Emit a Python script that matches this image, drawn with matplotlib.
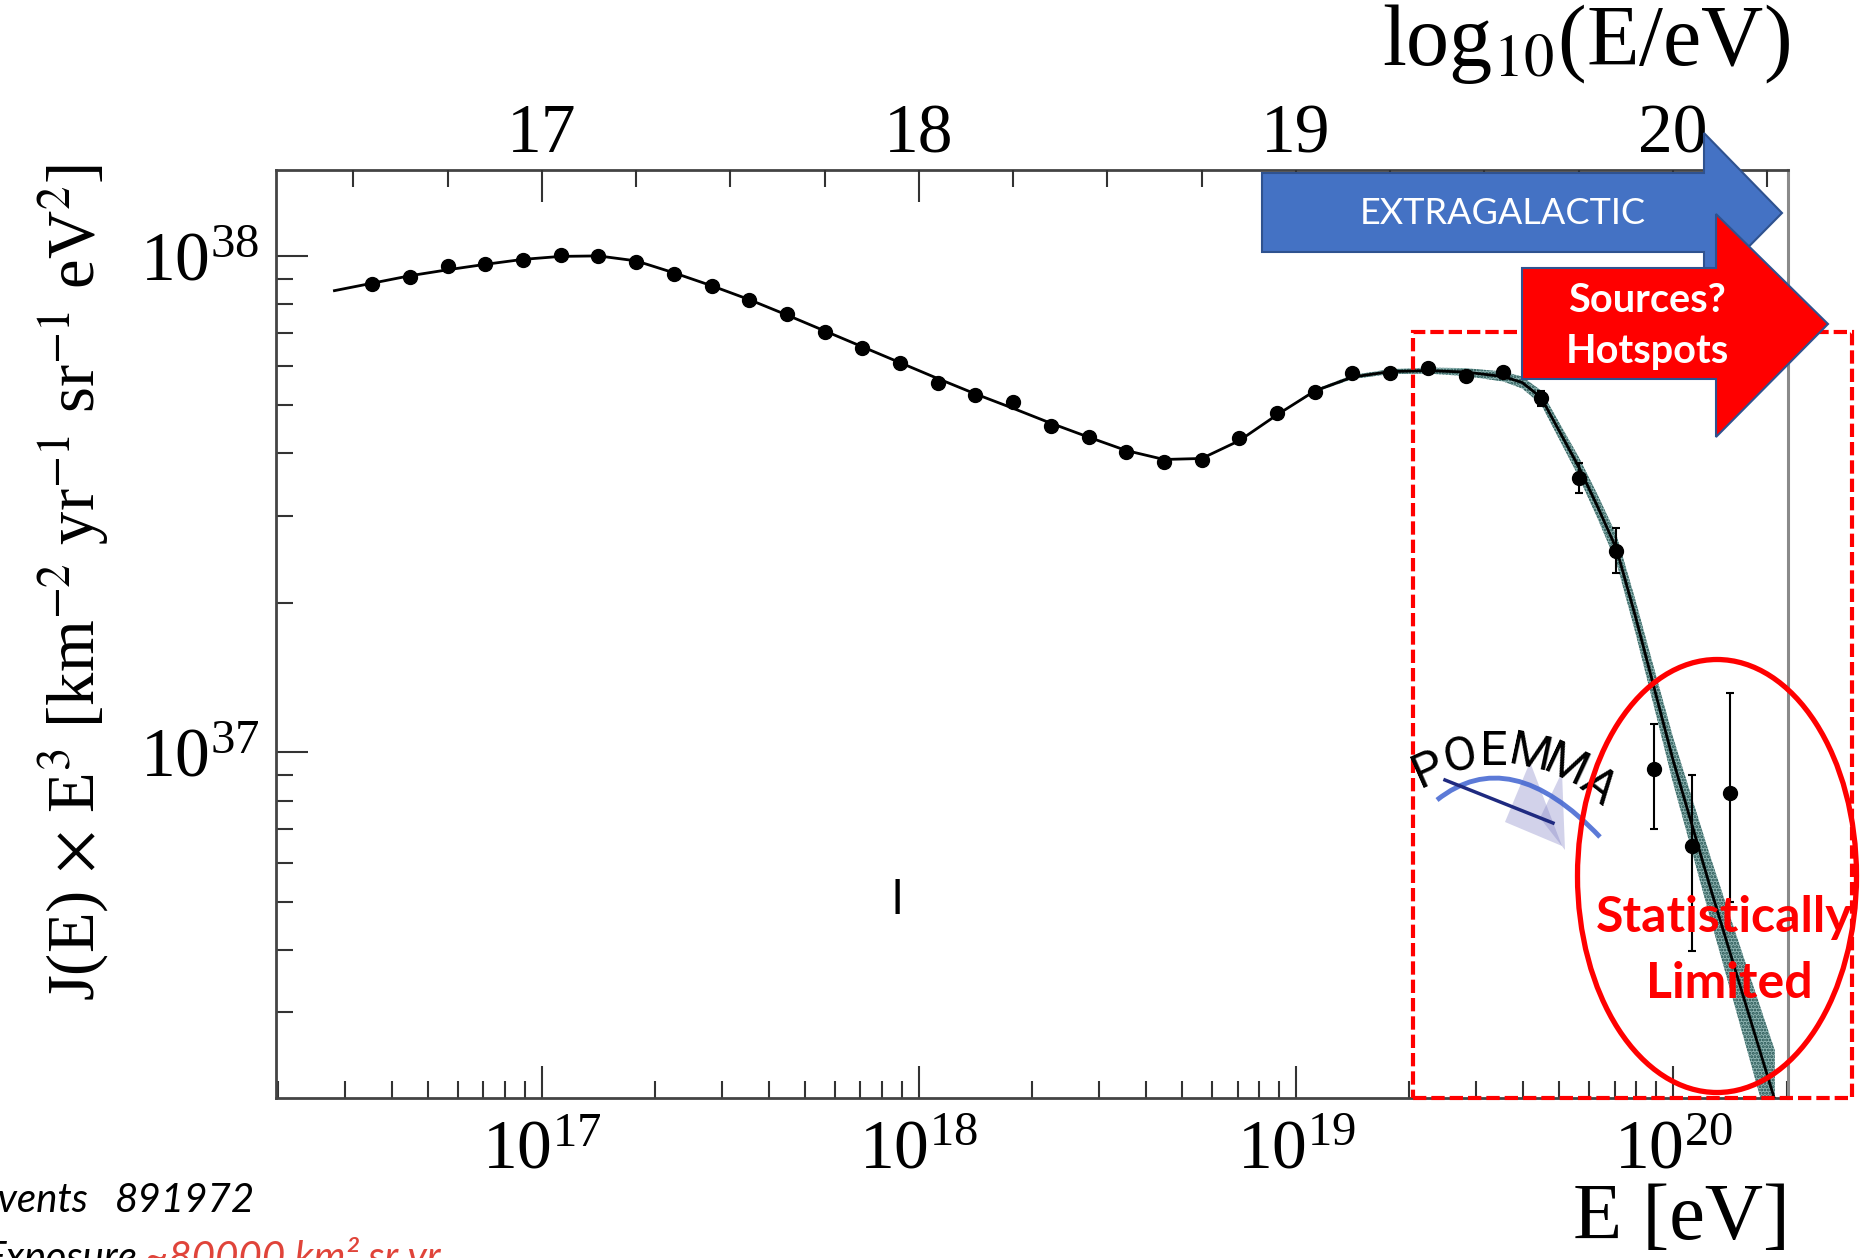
import numpy as np
import matplotlib
matplotlib.use("Agg")
import matplotlib.pyplot as plt
from matplotlib.patches import Polygon, Rectangle, Ellipse, PathPatch
from matplotlib.path import Path
from matplotlib.ticker import LogLocator, NullFormatter, FixedLocator

plt.rcParams['font.family'] = ['Liberation Serif', 'DejaVu Serif']
plt.rcParams['mathtext.fontset'] = 'stix'
plt.rcParams['hatch.linewidth'] = 1.4

# ---- data (log10 values) ----
log_e = [16.55, 16.65, 16.75, 16.85, 16.95, 17.05, 17.15, 17.25, 17.35, 17.45,
         17.55, 17.65, 17.75, 17.85, 17.95, 18.05, 18.15, 18.25, 18.35, 18.45,
         18.55, 18.65, 18.75, 18.85, 18.95, 19.05, 19.15, 19.25, 19.35, 19.45,
         19.55, 19.65, 19.75, 19.85, 19.95, 20.05, 20.15]
log_flux = [37.944, 37.958, 37.979, 37.983, 37.991, 38.001, 38.000, 37.987, 37.964, 37.939,
            37.911, 37.882, 37.846, 37.815, 37.785, 37.744, 37.719, 37.705, 37.658, 37.636,
            37.605, 37.584, 37.589, 37.633, 37.684, 37.725, 37.764, 37.764, 37.774, 37.758,
            37.767, 37.713, 37.552, 37.405, 36.966, 36.811, 36.918]
# error bars (dex) for the highest-energy bins
err_log_e = [19.65, 19.75, 19.85, 19.95, 20.05, 20.15]
err_lo = [0.015, 0.030, 0.044, 0.121, 0.211, 0.219]
err_hi = [0.015, 0.030, 0.046, 0.091, 0.143, 0.201]

# fitted spectrum and its uncertainty band (half width, dex)
fit_log_e = [16.45, 16.55, 16.65, 16.75, 16.85, 16.95, 17.05, 17.15, 17.25, 17.35,
             17.45, 17.55, 17.65, 17.75, 17.85, 17.95, 18.05, 18.15, 18.25, 18.35,
             18.45, 18.55, 18.65, 18.75, 18.85, 18.95, 19.05, 19.15, 19.25, 19.35,
             19.45, 19.55, 19.60, 19.65, 19.70, 19.75, 19.80, 19.85, 19.90, 19.95,
             20.00, 20.05, 20.10, 20.15, 20.20, 20.27]
fit_log_flux = [37.930, 37.945, 37.960, 37.972, 37.983, 37.993, 37.999, 38.000, 37.990, 37.966,
                37.940, 37.912, 37.881, 37.849, 37.817, 37.785, 37.753, 37.722, 37.693, 37.663,
                37.635, 37.608, 37.590, 37.592, 37.628, 37.680, 37.728, 37.756, 37.767, 37.769,
                37.766, 37.757, 37.745, 37.715, 37.645, 37.575, 37.495, 37.410, 37.275, 37.130,
                36.985, 36.855, 36.725, 36.600, 36.475, 36.300]
fit_band = [0, 0, 0, 0, 0, 0, 0, 0, 0, 0,
            0, 0, 0, 0, 0, 0, 0, 0, 0, 0,
            0, 0, 0, 0, 0, 0, 0.003, 0.004, 0.005, 0.006,
            0.008, 0.010, 0.012, 0.014, 0.017, 0.020, 0.024, 0.028, 0.033, 0.039,
            0.046, 0.054, 0.063, 0.073, 0.084, 0.100]

top_ticks = [17, 18, 19, 20]

W, H = 1867, 1258
fig = plt.figure(figsize=(W / 100, H / 100), dpi=100)


def fx(px):
    return px / W


def fy(py):
    return 1 - py / H


ax = fig.add_axes([fx(276), fy(1098), fx(1788 - 276), (1098 - 170) / H])
ax.set_xscale('log')
ax.set_yscale('log')
ax.set_xlim(10 ** 16.295, 10 ** 20.305)
ax.set_ylim(10 ** 36.304, 10 ** 38.173)

E = 10 ** np.array(log_e)
F = 10 ** np.array(log_flux)
fE = 10 ** np.array(fit_log_e)
fF = np.array(fit_log_flux)
band = np.array(fit_band)

ax.fill_between(fE, 10 ** (fF - band), 10 ** (fF + band), facecolor='#8fb4b2',
                edgecolor='#1f4f4d', hatch='.....', linewidth=0, zorder=2)
ax.plot(fE, 10 ** fF, color='black', lw=2.0, zorder=3)

eE = 10 ** np.array(err_log_e)
eF = F[[log_e.index(v) for v in err_log_e]]
ylo = eF - 10 ** (np.log10(eF) - np.array(err_lo))
yhi = 10 ** (np.log10(eF) + np.array(err_hi)) - eF
ax.errorbar(eE, eF, yerr=[ylo, yhi], fmt='none', ecolor='black', elinewidth=1.5,
            capsize=3, capthick=1.5, zorder=4)
ax.plot(E, F, 'o', color='black', markersize=10, zorder=5)

# axes styling
for s in ['left', 'bottom', 'top']:
    ax.spines[s].set_color('#444444')
    ax.spines[s].set_linewidth(2)
ax.spines['right'].set_color('#8a8a8a')
ax.spines['right'].set_linewidth(2.2)

ax.xaxis.set_major_locator(LogLocator(base=10, numticks=10))
ax.xaxis.set_minor_locator(LogLocator(base=10, subs=np.arange(2, 10), numticks=20))
ax.yaxis.set_major_locator(LogLocator(base=10, numticks=10))
ax.yaxis.set_minor_locator(LogLocator(base=10, subs=np.arange(2, 10), numticks=20))
ax.xaxis.set_minor_formatter(NullFormatter())
ax.yaxis.set_minor_formatter(NullFormatter())
ax.tick_params(which='both', direction='in', top=False, right=False, color='#333333', width=1.5)
ax.tick_params(which='major', length=23)
ax.tick_params(which='minor', length=12)
ax.tick_params(axis='x', which='major', labelsize=50, pad=16)
ax.tick_params(axis='y', which='major', labelsize=50, pad=12)

ax2 = ax.twiny()
ax2.set_xlim(16.295, 20.305)
ax2.xaxis.set_major_locator(FixedLocator(top_ticks))
ax2.xaxis.set_minor_locator(FixedLocator(np.arange(16.5, 20.3, 0.25)))
ax2.set_xticklabels([str(t) for t in top_ticks])
ax2.tick_params(which='both', direction='in', color='#333333', width=1.5)
ax2.tick_params(which='major', length=23, labelsize=50, pad=2)
ax2.tick_params(which='minor', length=12)
for s in ax2.spines.values():
    s.set_visible(False)

# axis titles
fig.text(fx(1790), fy(44), r'log$_{10}$(E/eV)', fontsize=62, ha='right', va='center')
fig.text(fx(1790), fy(1219), 'E [eV]', fontsize=58, ha='right', va='center')
fig.text(fx(74), fy(583),
         r'J(E)$\,\times\,$E$^{3}$ [km$^{-2}$ yr$^{-1}$ sr$^{-1}$ eV$^{2}$]',
         fontsize=48, rotation=90, ha='center', va='center')
fig.text(fx(897), fy(902), 'l', fontsize=34, family='DejaVu Sans', ha='center', va='center')

# exposure info at the bottom left
sans = ['Lato', 'DejaVu Sans']
fig.text(fx(88), fy(1212), 'Events', fontsize=29, style='italic', family=sans, ha='right', va='baseline')
fig.text(fx(115), fy(1212), '891972', fontsize=29, style='italic', family=sans, ha='left', va='baseline')
fig.text(fx(137), fy(1270), 'Exposure', fontsize=29, style='italic', family=sans, ha='right', va='baseline')
fig.text(fx(145), fy(1270), '~80000 km² sr yr', fontsize=29, style='italic', family=sans,
         color='#e0443a', ha='left', va='baseline')

# arrows
blue = [(1262, 173), (1704, 173), (1704, 133), (1782, 213), (1704, 292), (1704, 252), (1262, 252)]
fig.add_artist(Polygon([(fx(x), fy(y)) for x, y in blue], closed=True, transform=fig.transFigure,
                       facecolor='#4472C4', edgecolor='#2F528F', lw=1.5, zorder=5))
red = [(1522, 268), (1716, 268), (1716, 214), (1828, 324), (1716, 437), (1716, 379), (1522, 379)]
fig.add_artist(Polygon([(fx(x), fy(y)) for x, y in red], closed=True, transform=fig.transFigure,
                       facecolor='#FF0000', edgecolor='#2F528F', lw=1.5, zorder=6))
fig.text(fx(1503), fy(214), 'EXTRAGALACTIC', fontsize=26, family=sans, color='white',
         ha='center', va='center', zorder=7)
fig.text(fx(1647), fy(301), 'Sources?', fontsize=28.5, family=sans, weight='bold', color='white',
         ha='center', va='center', zorder=7)
fig.text(fx(1647), fy(351), 'Hotspots', fontsize=28.5, family=sans, weight='bold', color='white',
         ha='center', va='center', zorder=7)

# highlighted regions
fig.add_artist(Rectangle((fx(1413), fy(1098)), fx(1852 - 1413), (1098 - 332) / H,
                         transform=fig.transFigure, fill=False, edgecolor='#FF0000', lw=3,
                         linestyle=(0, (3.2, 1.2)), zorder=4))
fig.add_artist(Ellipse((fx(1717), fy(876)), fx(279), 433 / H, transform=fig.transFigure,
                       fill=False, edgecolor='#FF0000', lw=3.8, zorder=5))
fig.text(fx(1724), fy(918), 'Statistically', fontsize=36, family=sans, weight='bold',
         color='#FF0000', ha='center', va='center', zorder=7)
fig.text(fx(1729), fy(983), 'Limited', fontsize=36, family=sans, weight='bold',
         color='#FF0000', ha='center', va='center', zorder=7)

# POEMMA logo
tri1 = [(1530, 762), (1505, 822), (1562, 846)]
tri2 = [(1562, 772), (1540, 818), (1565, 850)]
for tri in (tri1, tri2):
    fig.add_artist(Polygon([(fx(x), fy(y)) for x, y in tri], closed=True, transform=fig.transFigure,
                           facecolor='#7f7fc4', alpha=0.35, lw=0, zorder=3))
arc = Path([(fx(1437), fy(800)), (fx(1510), fy(742)), (fx(1600), fy(837))],
           [Path.MOVETO, Path.CURVE3, Path.CURVE3])
fig.add_artist(PathPatch(arc, transform=fig.transFigure, fill=False, edgecolor='#3f63d0',
                         lw=3.5, alpha=0.85, zorder=3))
fig.add_artist(plt.Line2D([fx(1445), fx(1553)], [fy(780), fy(823)], transform=fig.transFigure,
                          color='#1f2a80', lw=2.5, zorder=3))
letters = ['P', 'O', 'E', 'M', 'M', 'A']
lx = [1429, 1460, 1494, 1530, 1566, 1598]
ly = [770, 757, 752, 755, 767, 786]
rot = [24, 12, 0, -12, -25, -38]
for ch, x, y, r in zip(letters, lx, ly, rot):
    fig.text(fx(x), fy(y), ch, fontsize=35, family=['Roboto', 'DejaVu Sans'],
             color='black', rotation=r, ha='center', va='center', zorder=4)

fig.savefig('out.png', dpi=100)
